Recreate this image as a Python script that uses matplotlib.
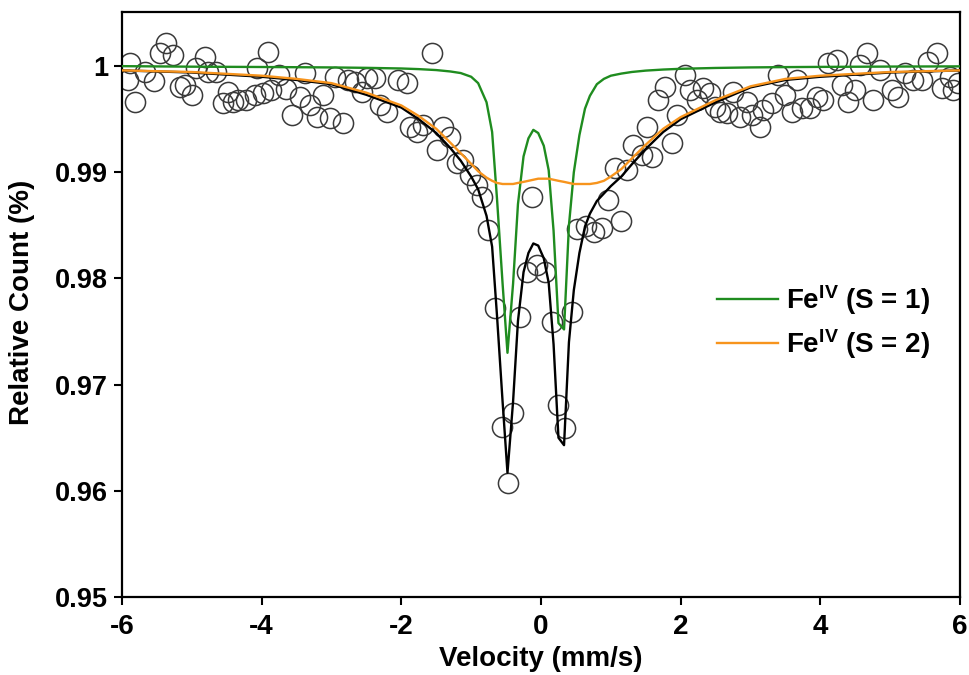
import matplotlib.pyplot as plt

plt.rcParams["font.family"] = "Liberation Sans"
plt.rcParams["font.weight"] = "bold"
plt.rcParams["mathtext.fontset"] = "custom"
plt.rcParams["mathtext.rm"] = "Liberation Sans:bold"
plt.rcParams["mathtext.bf"] = "Liberation Sans:bold"
plt.rcParams["mathtext.it"] = "Liberation Sans:bold"
plt.rcParams["mathtext.default"] = "bf"

# measured spectrum
velocity = [
    -5.91, -5.89, -5.81, -5.67, -5.54, -5.46, -5.37, -5.27, -5.17, -5.10,
    -5.00, -4.94, -4.81, -4.77, -4.65, -4.55, -4.48, -4.41, -4.34, -4.23,
    -4.10, -4.07, -3.98, -3.91, -3.87, -3.75, -3.65, -3.57, -3.45, -3.38,
    -3.31, -3.21, -3.12, -3.02, -2.95, -2.84, -2.76, -2.66, -2.56, -2.49,
    -2.38, -2.31, -2.21, -2.05, -1.92, -1.88, -1.78, -1.69, -1.56, -1.49,
    -1.40, -1.30, -1.20, -1.12, -1.02, -0.92, -0.85, -0.76, -0.66, -0.56,
    -0.47, -0.40, -0.30, -0.20, -0.13, -0.06, 0.06, 0.16, 0.24, 0.34,
    0.44, 0.52, 0.64, 0.76, 0.87, 0.96, 1.06, 1.15, 1.23, 1.32,
    1.45, 1.52, 1.59, 1.68, 1.78, 1.88, 1.95, 2.06, 2.13, 2.23,
    2.32, 2.42, 2.49, 2.56, 2.66, 2.75, 2.85, 2.95, 3.02, 3.14,
    3.18, 3.31, 3.39, 3.49, 3.59, 3.67, 3.74, 3.85, 3.95, 4.04,
    4.11, 4.24, 4.31, 4.40, 4.50, 4.57, 4.67, 4.75, 4.86, 5.03,
    5.11, 5.21, 5.33, 5.46, 5.54, 5.67, 5.74, 5.86, 5.90, 5.97,
]
rel_count = [
    0.99868, 1.00028, 0.99661, 0.99944, 0.99859, 1.00122, 1.00217, 1.00104, 0.99802, 0.99821,
    0.99727, 0.99981, 1.00085, 0.99944, 0.99944, 0.99652, 0.99755, 0.99661, 0.99680, 0.99680,
    0.99727, 0.99981, 0.99746, 1.00132, 0.99774, 0.99915, 0.99783, 0.99539, 0.99708, 0.99934,
    0.99633, 0.99520, 0.99727, 0.99510, 0.99896, 0.99463, 0.99868, 0.99849, 0.99755, 0.99887,
    0.99887, 0.99633, 0.99567, 0.99868, 0.99840, 0.99426, 0.99379, 0.99444, 1.00122, 0.99209,
    0.99426, 0.99331, 0.99087, 0.99115, 0.98974, 0.98879, 0.98766, 0.98456, 0.97721, 0.96601,
    0.96073, 0.96733, 0.97637, 0.98060, 0.98766, 0.98126, 0.98060, 0.97589, 0.96808, 0.96591,
    0.97684, 0.98465, 0.98493, 0.98437, 0.98475, 0.98738, 0.99040, 0.98540, 0.99021, 0.99256,
    0.99162, 0.99426, 0.99143, 0.99680, 0.99802, 0.99275, 0.99539, 0.99915, 0.99774, 0.99680,
    0.99793, 0.99746, 0.99614, 0.99567, 0.99557, 0.99755, 0.99520, 0.99661, 0.99539, 0.99426,
    0.99586, 0.99652, 0.99915, 0.99727, 0.99567, 0.99868, 0.99605, 0.99605, 0.99708, 0.99680,
    1.00028, 1.00056, 0.99821, 0.99661, 0.99774, 1.00009, 1.00122, 0.99680, 0.99962, 0.99774,
    0.99708, 0.99934, 0.99868, 0.99868, 1.00038, 1.00122, 0.99793, 0.99896, 0.99774, 0.99840,
]

# fitted envelope and the two Fe(IV) doublets
fit_velocity = [
    -6.0, -5.0, -4.0, -3.5, -3.0, -2.5, -2.0, -1.75, -1.5, -1.3,
    -1.15, -1.0, -0.9, -0.78, -0.70, -0.63, -0.55, -0.48, -0.40, -0.33,
    -0.25, -0.18, -0.11, -0.04, 0.04, 0.11, 0.18, 0.25, 0.33, 0.40,
    0.47, 0.55, 0.63, 0.70, 0.80, 0.90, 1.0, 1.15, 1.3, 1.5,
    1.75, 2.0, 2.5, 3.0, 3.5, 4.0, 5.0, 6.0,
]
fit_total = [
    0.9996, 0.9994, 0.9990, 0.9987, 0.9983, 0.9973, 0.9961, 0.9950, 0.9937, 0.9923,
    0.9911, 0.9896, 0.9884, 0.9859, 0.9830, 0.9765, 0.9684, 0.9617, 0.9684, 0.9760,
    0.9806, 0.9824, 0.9833, 0.9831, 0.9819, 0.9796, 0.9738, 0.9650, 0.9643, 0.9740,
    0.9789, 0.9824, 0.9849, 0.9861, 0.9873, 0.9880, 0.9887, 0.9896, 0.99075, 0.9922,
    0.9938, 0.9950, 0.9966, 0.9980, 0.9987, 0.9990, 0.9994, 0.9996,
]
fit_s1 = [
    1.0000, 0.99995, 0.99992, 0.99990, 0.99988, 0.99984, 0.99978, 0.99972, 0.99963, 0.99950,
    0.99935, 0.99900, 0.99840, 0.99660, 0.99380, 0.98750, 0.97950, 0.97300, 0.97950, 0.98700,
    0.99150, 0.99320, 0.99400, 0.99370, 0.99250, 0.99020, 0.98450, 0.97580, 0.97520, 0.98500,
    0.99000, 0.99350, 0.99600, 0.99720, 0.99830, 0.99880, 0.99910, 0.99930, 0.99945, 0.99958,
    0.99968, 0.99975, 0.99983, 0.99988, 0.99991, 0.99993, 0.99996, 0.99998,
]
fit_s2 = [
    0.9996, 0.99945, 0.9991, 0.9988, 0.9984, 0.9975, 0.9963, 0.9953, 0.9941, 0.9928,
    0.9918, 0.9908, 0.9901, 0.9895, 0.9892, 0.9890, 0.9889, 0.9889, 0.9889, 0.9890,
    0.9891, 0.9892, 0.9893, 0.9894, 0.9894, 0.9894, 0.9893, 0.9892, 0.9891, 0.9890,
    0.9889, 0.9889, 0.9889, 0.9889, 0.9890, 0.9892, 0.9896, 0.9903, 0.9913, 0.9926,
    0.9941, 0.9952, 0.9968, 0.9981, 0.9988, 0.9991, 0.99945, 0.9996,
]

x_ticks = [-6, -4, -2, 0, 2, 4, 6]
x_tick_labels = ["-6", "-4", "-2", "0", "2", "4", "6"]
y_ticks = [0.95, 0.96, 0.97, 0.98, 0.99, 1.0]
y_tick_labels = ["0.95", "0.96", "0.97", "0.98", "0.99", "1"]

W, H = 970, 675
fig = plt.figure(figsize=(W / 100, H / 100), dpi=100)
ax = fig.add_axes([122 / W, 1 - 597 / H, 838 / W, 585 / H])

ax.plot(velocity, rel_count, "o", ms=14.5, mfc="none", mec="#3a3a3a", mew=1.1, zorder=2)
ax.plot(fit_velocity, fit_total, color="black", lw=1.7, zorder=3)
ax.plot(fit_velocity, fit_s1, color="#1f8c1f", lw=1.7, zorder=4,
        label="Fe$^{IV}$ (S = 1)")
ax.plot(fit_velocity, fit_s2, color="#f7941d", lw=1.7, zorder=5,
        label="Fe$^{IV}$ (S = 2)")

ax.set_xlim(-6, 6)
ax.set_ylim(0.95, 1.0051)
ax.set_xticks(x_ticks)
ax.set_xticklabels(x_tick_labels, fontsize=20)
ax.set_yticks(y_ticks)
ax.set_yticklabels(y_tick_labels, fontsize=19.5)
ax.tick_params(direction="out", length=6, width=1.5)
ax.tick_params(axis="x", pad=6)
ax.tick_params(axis="y", pad=4)
for side in ax.spines.values():
    side.set_linewidth(1.6)

fig.text(541 / W, 1 - 659 / H, "Velocity (mm/s)", ha="center", va="center", fontsize=20)
fig.text(22 / W, 1 - 302 / H, "Relative Count (%)", ha="center", va="center",
         rotation=90, fontsize=20)

ax.legend(loc="center left", bbox_to_anchor=(0.71, 0.47), frameon=False,
          fontsize=20, handlelength=2.2, handletextpad=0.3, labelspacing=0.35,
          borderpad=0, borderaxespad=0)

fig.savefig("out.png", dpi=100)
